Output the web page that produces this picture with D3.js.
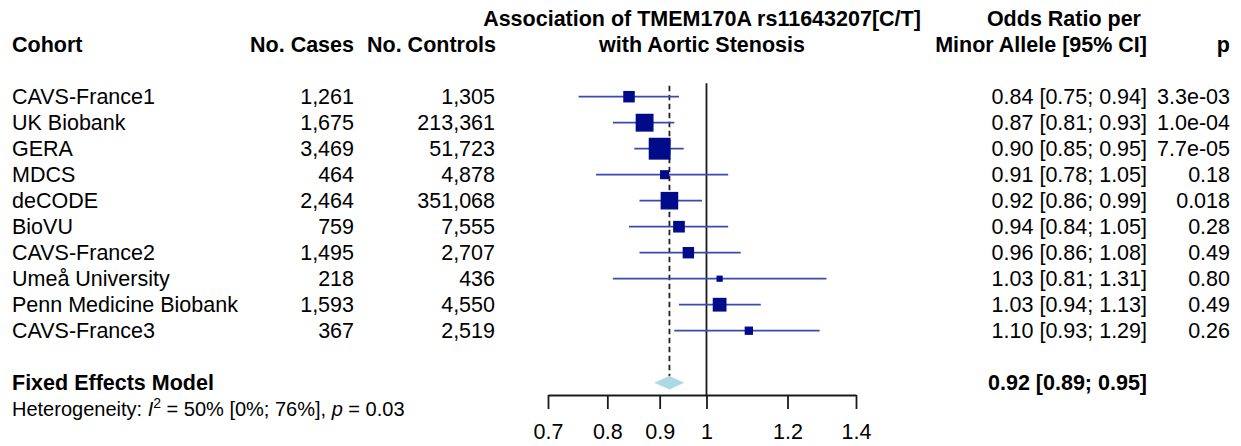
<!DOCTYPE html>
<html>
<head>
<meta charset="utf-8">
<script src="https://cdn.jsdelivr.net/npm/d3@7"></script>
<style>
  html, body { margin: 0; padding: 0; background: #fff; }
  svg text { font-family: "Liberation Sans", Arial, Helvetica, sans-serif; fill: #000; }
</style>
</head>
<body>
<svg id="chart" width="1241" height="446"></svg>
<script>
// Study-level results for TMEM170A rs11643207 and aortic stenosis
const cohorts   = ["CAVS-France1", "UK Biobank", "GERA", "MDCS", "deCODE", "BioVU",
                   "CAVS-France2", "Umeå University", "Penn Medicine Biobank", "CAVS-France3"];
const cases     = ["1,261", "1,675", "3,469", "464", "2,464", "759", "1,495", "218", "1,593", "367"];
const controls  = ["1,305", "213,361", "51,723", "4,878", "351,068", "7,555", "2,707", "436", "4,550", "2,519"];
const oddsRatio = [0.84, 0.87, 0.90, 0.91, 0.92, 0.94, 0.96, 1.03, 1.03, 1.10];
const ciLower   = [0.75, 0.81, 0.85, 0.78, 0.86, 0.84, 0.86, 0.81, 0.94, 0.93];
const ciUpper   = [0.94, 0.93, 0.95, 1.05, 0.99, 1.05, 1.08, 1.31, 1.13, 1.29];
const pValues   = ["3.3e-03", "1.0e-04", "7.7e-05", "0.18", "0.018", "0.28", "0.49", "0.80", "0.49", "0.26"];
const weights   = [6.6, 17.6, 27.2, 3.8, 17.0, 6.8, 6.5, 1.5, 9.9, 3.1]; // % weight (fixed effect)

// Pooled estimate
const pooledOR = 0.92, pooledLower = 0.89, pooledUpper = 0.95;
const heterogeneity = { i2: "50%", i2ci: "[0%; 76%]", p: "0.03" };

const tickValues = [0.7, 0.8, 0.9, 1, 1.2, 1.4];
const tickLabels = ["0.7", "0.8", "0.9", "1", "1.2", "1.4"];

const fmtCI = (o, l, u) => `${o.toFixed(2)} [${l.toFixed(2)}; ${u.toFixed(2)}]`;

// Layout
const fontSize = 21.5;
const rowH = 26;
const firstRow = 96.7;
const rowY = i => firstRow + i * rowH;
const pooledRow = cohorts.length + 1;
const axisY = 395;

const col = { cohort: 12, cases: 354, controls: 495, effect: 1147, p: 1230 };

const svg = d3.select("#chart");

const x = d3.scaleLog().domain([0.7, 1.4]).range([548, 856]);
const box = d3.scaleSqrt().domain([0, d3.max(weights)]).range([0, 20.5]);

// ---- Column headers ----
const head = svg.append("g").attr("font-weight", "bold").attr("font-size", fontSize);
const hdr = (txt, xPos, i, anchor) =>
  head.append("text").attr("x", xPos).attr("y", rowY(i)).attr("dy", "0.35em")
      .attr("text-anchor", anchor).text(txt);

hdr("Cohort", col.cohort, -2, "start");
hdr("No. Cases", col.cases, -2, "end");
hdr("No. Controls", col.controls + 1, -2, "end");
hdr("Association of TMEM170A rs11643207[C/T]", 702, -3, "middle");
hdr("with Aortic Stenosis", 702, -2, "middle");
hdr("Odds Ratio per", col.effect - 6, -3, "end");
hdr("Minor Allele [95% CI]", col.effect, -2, "end");
hdr("p", col.p, -2, "end");

// ---- Study rows: text columns ----
const rows = svg.append("g").attr("font-size", fontSize);
cohorts.forEach((c, i) => {
  const y = rowY(i);
  const t = (txt, xPos, anchor) =>
    rows.append("text").attr("x", xPos).attr("y", y).attr("dy", "0.35em")
        .attr("text-anchor", anchor).text(txt);
  t(c, col.cohort, "start");
  t(cases[i], col.cases, "end");
  t(controls[i], col.controls, "end");
  t(fmtCI(oddsRatio[i], ciLower[i], ciUpper[i]), col.effect, "end");
  t(pValues[i], col.p, "end");
});

// ---- Reference lines ----
svg.append("line")
  .attr("x1", x(1)).attr("x2", x(1))
  .attr("y1", rowY(0) - 13.5).attr("y2", axisY)
  .attr("stroke", "#1a1a1a").attr("stroke-width", 1.8);

const diamondH = 13;
svg.append("line")
  .attr("x1", x(pooledOR)).attr("x2", x(pooledOR))
  .attr("y1", rowY(0) - 11).attr("y2", rowY(pooledRow) - diamondH / 2)
  .attr("stroke", "#222").attr("stroke-width", 1.8)
  .attr("stroke-dasharray", "5.5,3.5");

// ---- Confidence intervals and weighted squares ----
const marks = svg.append("g");
cohorts.forEach((c, i) => {
  const y = rowY(i);
  marks.append("line")
    .attr("x1", x(ciLower[i])).attr("x2", x(ciUpper[i]))
    .attr("y1", y).attr("y2", y)
    .attr("stroke", "#3a4ab0").attr("stroke-width", 1.8);
});
cohorts.forEach((c, i) => {
  const y = rowY(i);
  const s = box(weights[i]);
  marks.append("rect")
    .attr("x", x(oddsRatio[i]) - s / 2).attr("y", y - s / 2)
    .attr("width", s).attr("height", s)
    .attr("fill", "#000b8a").attr("stroke", "#000b8a").attr("stroke-width", 1.4);
});

// ---- Pooled estimate ----
const py = rowY(pooledRow);
svg.append("path")
  .attr("d", `M${x(pooledLower)},${py} L${x(pooledOR)},${py - diamondH / 2} L${x(pooledUpper)},${py} L${x(pooledOR)},${py + diamondH / 2} Z`)
  .attr("fill", "#add8e6").attr("stroke", "#add8e6").attr("stroke-width", 0.5);

svg.append("text").attr("x", col.cohort).attr("y", py).attr("dy", "0.35em")
  .attr("font-size", fontSize).attr("font-weight", "bold").text("Fixed Effects Model");
svg.append("text").attr("x", col.effect).attr("y", py).attr("dy", "0.35em")
  .attr("text-anchor", "end").attr("font-size", fontSize).attr("font-weight", "bold")
  .text(fmtCI(pooledOR, pooledLower, pooledUpper));

// Heterogeneity statistics
const het = svg.append("text").attr("x", col.cohort).attr("y", rowY(pooledRow + 1)).attr("dy", "0.35em")
  .attr("font-size", 20);
het.append("tspan").text("Heterogeneity: ");
het.append("tspan").attr("font-style", "italic").text("I");
het.append("tspan").attr("font-size", 14).attr("dy", -8).text("2");
het.append("tspan").attr("dy", 8).text(` = ${heterogeneity.i2} ${heterogeneity.i2ci}, `);
het.append("tspan").attr("font-style", "italic").text("p");
het.append("tspan").text(` = ${heterogeneity.p}`);

// ---- Log-scale axis ----
const axis = d3.axisBottom(x)
  .tickValues(tickValues)
  .tickFormat((d, i) => tickLabels[i])
  .tickSize(14)
  .tickSizeOuter(0)
  .tickPadding(15);

const ag = svg.append("g").attr("transform", `translate(0,${axisY})`).call(axis);
ag.select(".domain").attr("stroke", "#1a1a1a").attr("stroke-width", 1.8);
ag.selectAll(".tick line").attr("stroke", "#1a1a1a").attr("stroke-width", 1.8);
ag.selectAll(".tick text").attr("font-size", fontSize)
  .attr("font-family", "Liberation Sans, Arial, sans-serif").attr("fill", "#000");
</script>
</body>
</html>
